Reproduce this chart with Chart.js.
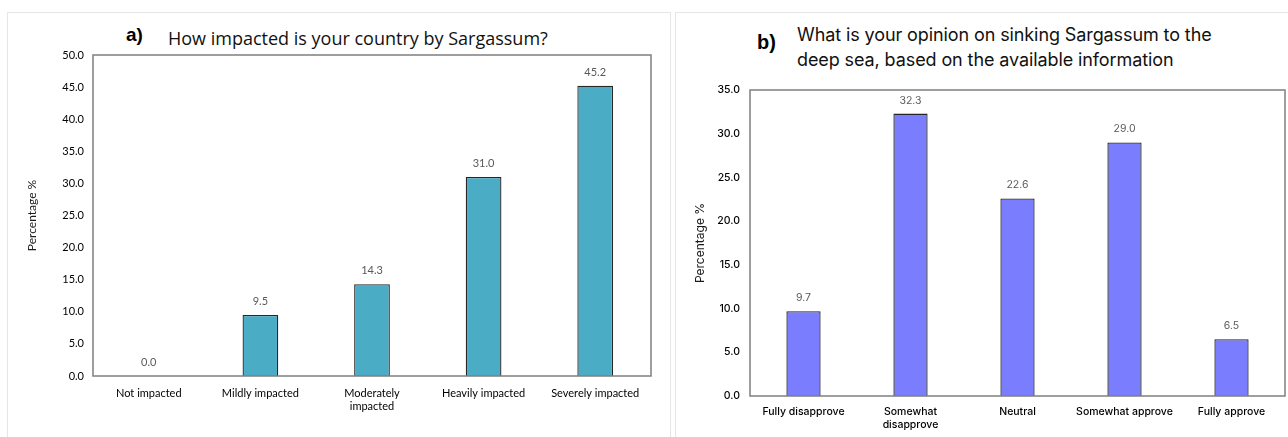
<!DOCTYPE html>
<html>
<head>
<meta charset="utf-8">
<script src="https://cdn.jsdelivr.net/npm/chart.js@4"></script>
<style>
  html, body { margin:0; padding:0; background:#fff; }
  body { width:1288px; height:437px; position:relative; overflow:hidden; font-family: Lato, "Liberation Sans", sans-serif; }
  .panel { position:absolute; border:1.5px solid #e6e6e6; box-sizing:border-box; }
  .cv { position:absolute; }
  .ttl { position:absolute; color:#111; white-space:nowrap; }
  .lbl { position:absolute; font-family: "Liberation Sans", Arial, sans-serif; font-weight:bold; color:#000; }
</style>
</head>
<body>
<div class="panel" style="left:7px; top:12px; width:664px; height:426px;"></div>
<div class="panel" style="left:675px; top:12px; width:616px; height:428px;"></div>

<div class="lbl" style="left:126px; top:24px; font-size:19px;">a)</div>
<div class="ttl" style="left:168px; top:26px; font-size:18px; font-family: 'Open Sans', sans-serif;">How impacted is your country by Sargassum?</div>

<div class="lbl" style="left:757px; top:31px; font-size:20px;">b)</div>
<div class="ttl" style="left:797px; top:22px; font-size:18px; line-height:25px; font-family: Inter, Roboto, sans-serif; letter-spacing:-0.1px;">What is your opinion on sinking Sargassum to the<br>deep sea, based on the available information</div>

<div class="cv" style="left:0; top:0; width:670px; height:437px;"><canvas id="ca"></canvas></div>
<div class="cv" style="left:674px; top:0; width:614px; height:437px;"><canvas id="cb"></canvas></div>

<script>
// ---- Data ----
const catsA = ["Not impacted", "Mildly impacted", ["Moderately", "impacted"], "Heavily impacted", "Severely impacted"];
const valsA = [0.0, 9.5, 14.3, 31.0, 45.2];
const ticksA = [0, 5, 10, 15, 20, 25, 30, 35, 40, 45, 50];

const catsB = ["Fully disapprove", ["Somewhat", "disapprove"], "Neutral", "Somewhat approve", "Fully approve"];
const valsB = [9.7, 32.3, 22.6, 29.0, 6.5];
const ticksB = [0, 5, 10, 15, 20, 25, 30, 35];

const boxPlugin = {
  id: 'box',
  afterDatasetsDraw(chart) {
    const {ctx, chartArea: a} = chart;
    ctx.save();
    ctx.strokeStyle = '#7f7f7f';
    ctx.lineWidth = 1.5;
    ctx.strokeRect(a.left, a.top, a.right - a.left, a.bottom - a.top);
    ctx.restore();
  }
};
const valuePlugin = {
  id: 'vals',
  afterDatasetsDraw(chart, args, opts) {
    const {ctx} = chart;
    const meta = chart.getDatasetMeta(0);
    const data = chart.data.datasets[0].data;
    ctx.save();
    ctx.fillStyle = '#595959';
    ctx.font = opts.font || '11px Lato';
    ctx.textAlign = 'center';
    ctx.textBaseline = 'bottom';
    meta.data.forEach((bar, i) => {
      ctx.fillText(data[i].toFixed(1), bar.x, bar.y - (opts.gap || 8));
    });
    ctx.restore();
  }
};

function makeChart(id, cats, vals, ticks, cfg) {
  return new Chart(document.getElementById(id), {
    type: 'bar',
    data: {
      labels: cats,
      datasets: [{
        data: vals,
        backgroundColor: cfg.color,
        borderColor: '#262626',
        borderWidth: 1.3,
        barPercentage: cfg.barPct,
        categoryPercentage: 1.0
      }]
    },
    options: {
      responsive: true,
      maintainAspectRatio: false,
      animation: false,
      layout: { padding: cfg.padding },
      plugins: {
        legend: { display: false },
        tooltip: { enabled: false },
        vals: { font: cfg.valFont, gap: 8 }
      },
      scales: {
        x: {
          grid: { display: false, drawTicks: false },
          border: { display: false },
          ticks: { color: '#000', font: cfg.xFont, padding: cfg.xPad, maxRotation: 0, autoSkip: false },
          afterFit(s) { s.height = cfg.xH; }
        },
        y: {
          min: 0, max: ticks[ticks.length - 1],
          grid: { display: false, drawTicks: false },
          border: { display: false },
          afterBuildTicks(s) { s.ticks = ticks.map(v => ({ value: v })); },
          ticks: { color: '#000', font: cfg.yFont, padding: cfg.yPad, callback: v => Number(v).toFixed(1) },
          title: { display: true, text: 'Percentage %', color: '#1a1a1a', font: cfg.titleFont, padding: { top: cfg.titlePad, bottom: 0 } },
          afterFit(s) { s.width = cfg.yW; }
        }
      }
    },
    plugins: [boxPlugin, valuePlugin]
  });
}

makeChart('ca', catsA, valsA, ticksA, {
  color: '#4bacc6',
  barPct: 0.32,
  padding: { left: 0, right: 19, top: 55, bottom: 11 },
  xFont: { family: 'Lato', size: 11 },
  yFont: { family: 'Lato', size: 11 },
  valFont: '11px Lato',
  titleFont: { family: 'Lato', size: 12 },
  titlePad: 25,
  xPad: 11,
  xH: 50,
  yPad: 9,
  yW: 93
});

makeChart('cb', catsB, valsB, ticksB, {
  color: '#7b7dff',
  barPct: 0.32,
  padding: { left: 0, right: 3, top: 90, bottom: 6 },
  xFont: { family: 'Inter', size: 10.5, weight: 500 },
  yFont: { family: 'Inter', size: 10.5, weight: 500 },
  valFont: '10.5px Inter',
  titleFont: { family: 'Inter', size: 12 },
  titlePad: 19,
  xPad: 10,
  xH: 35,
  yPad: 10,
  yW: 76
});
</script>
</body>
</html>
